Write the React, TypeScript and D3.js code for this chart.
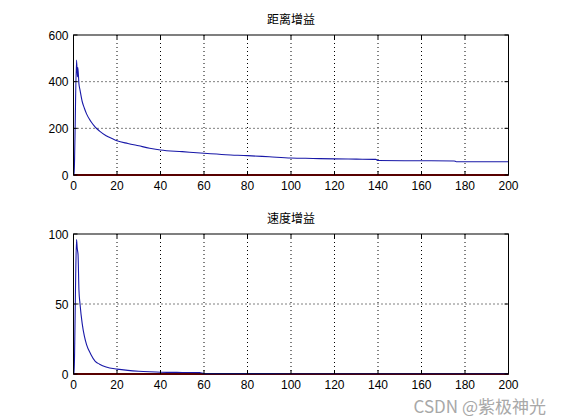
import React from "react";
import * as d3 from "d3";

const titles = ["距离增益", "速度增益"];
const xTicks = [0, 20, 40, 60, 80, 100, 120, 140, 160, 180, 200];
const yTicksTop = [0, 200, 400, 600];
const yTicksBottom = [0, 50, 100];

const distX = [0, 0.3, 0.6, 1.4, 1.8, 2.0, 2.5, 3, 4, 5, 6, 8, 10, 12, 15, 18, 20, 25, 30, 35, 40, 50, 60, 70, 80, 90, 100, 110, 120, 130, 139, 140, 160, 175, 176, 190, 200];
const distY = [0, 0, 121, 493, 420, 460, 390, 364, 315, 286, 262, 229, 205, 188, 168, 155, 147, 135, 125, 115, 107, 100, 93, 87, 83, 78, 73, 71, 69, 68, 67, 62, 61, 60, 57, 57, 57];

const velX = [0, 0.3, 0.6, 1.0, 1.4, 1.7, 2.1, 2.5, 3, 4, 5, 6, 8, 10, 12, 15, 20, 25, 30, 35, 40, 50, 58, 60, 80, 100, 140, 200];
const velY = [0, 0, 25, 70, 96, 90, 85, 60, 50, 36, 27, 21, 14, 9, 7, 5, 3.5, 2.6, 2.0, 1.6, 1.3, 1.1, 1.0, 0.3, 0.3, 0.2, 0.2, 0.2];

const redX = [0, 200];
const redTop = [0, 0];
const redBottom = [0, 0];

const W = 561;
const H = 420;
const left = 73.5;
const right = 508.5;

type PanelProps = {
  top: number;
  bottom: number;
  yMax: number;
  yTicks: number[];
  title: string;
  xs: number[];
  ys: number[];
  redYs: number[];
};

function Panel({ top, bottom, yMax, yTicks, title, xs, ys, redYs }: PanelProps) {
  const x = d3.scaleLinear().domain([0, 200]).range([left, right]);
  const y = d3.scaleLinear().domain([0, yMax]).range([bottom, top]);
  const line = d3
    .line<[number, number]>()
    .x((d) => x(d[0]))
    .y((d) => y(d[1]))
    .curve(d3.curveMonotoneX);
  const blue = line(xs.map((v, i) => [v, ys[i]] as [number, number])) || "";
  const red = line(redX.map((v, i) => [v, redYs[i]] as [number, number])) || "";
  const font = "'Liberation Sans', Arial, sans-serif";
  return (
    <g>
      {xTicks.slice(1, -1).map((t) => (
        <line key={"gx" + t} x1={x(t)} x2={x(t)} y1={top} y2={bottom} stroke="#000" strokeDasharray="1,3" strokeWidth={1} />
      ))}
      {yTicks.slice(1, -1).map((t) => (
        <line key={"gy" + t} x1={left} x2={right} y1={y(t)} y2={y(t)} stroke="#000" strokeDasharray="1,3" strokeWidth={1} />
      ))}
      <path d={red} fill="none" stroke="#b00000" strokeWidth={2} />
      <path d={blue} fill="none" stroke="#1818a8" strokeWidth={1.1} />
      <rect x={left} y={top} width={right - left} height={bottom - top} fill="none" stroke="#000" strokeWidth={1} />
      {xTicks.map((t) => (
        <g key={"tx" + t}>
          <line x1={x(t)} x2={x(t)} y1={bottom} y2={bottom - 4} stroke="#000" />
          <line x1={x(t)} x2={x(t)} y1={top} y2={top + 4} stroke="#000" />
          <text x={x(t)} y={bottom + 15} textAnchor="middle" fontSize={12} fontFamily={font} fill="#000">
            {t}
          </text>
        </g>
      ))}
      {yTicks.map((t) => (
        <g key={"ty" + t}>
          <line x1={left} x2={left + 4} y1={y(t)} y2={y(t)} stroke="#000" />
          <line x1={right} x2={right - 4} y1={y(t)} y2={y(t)} stroke="#000" />
          <text x={left - 5} y={y(t) + 4.5} textAnchor="end" fontSize={12} fontFamily={font} fill="#000">
            {t}
          </text>
        </g>
      ))}
      <text x={(left + right) / 2} y={top - 11} textAnchor="middle" fontSize={12} fontFamily="'Noto Sans CJK SC', sans-serif" fill="#000">
        {title}
      </text>
    </g>
  );
}

export default function App() {
  return (
    <svg width={W} height={H} style={{ position: "absolute", left: 0, top: 0, background: "#fff" }}>
      <rect x={0} y={0} width={W} height={H} fill="#fff" />
      <Panel top={35} bottom={175} yMax={600} yTicks={yTicksTop} title={titles[0]} xs={distX} ys={distY} redYs={redTop} />
      <Panel top={234} bottom={374} yMax={100} yTicks={yTicksBottom} title={titles[1]} xs={velX} ys={velY} redYs={redBottom} />
      <text x={546} y={413} textAnchor="end" fontSize={17} fontFamily="'Noto Sans CJK SC', sans-serif" fill="#a8a8a8">
        CSDN @紫极神光
      </text>
    </svg>
  );
}
